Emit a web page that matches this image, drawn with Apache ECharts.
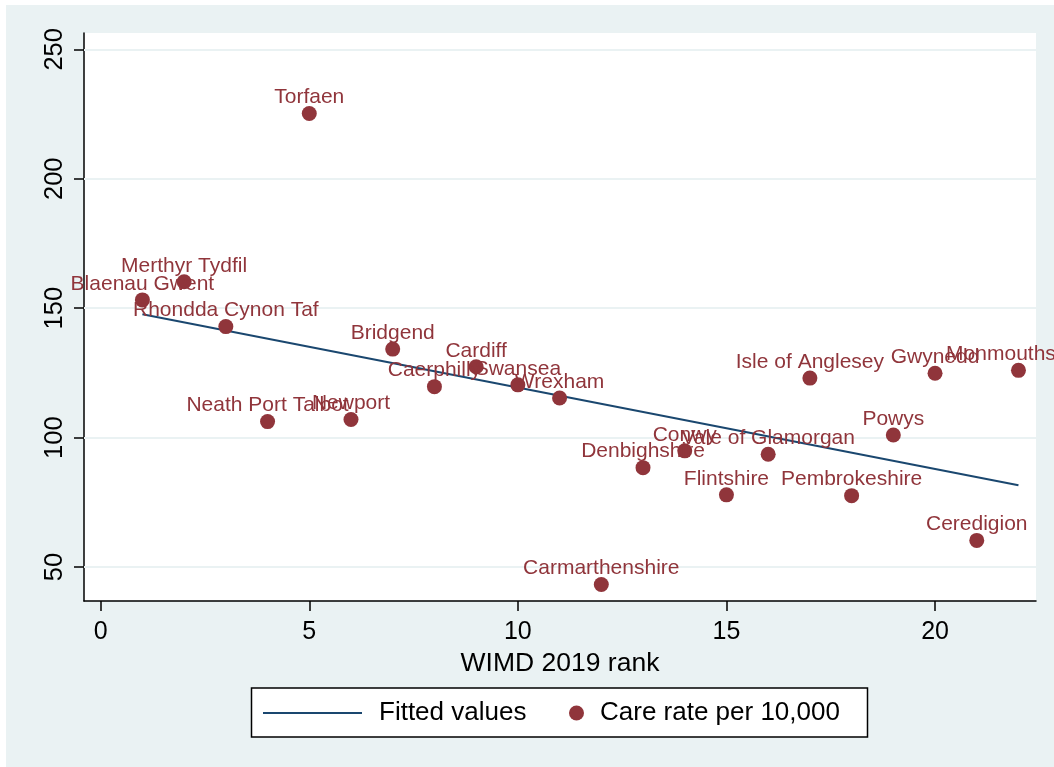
<!DOCTYPE html>
<html>
<head>
<meta charset="utf-8">
<script src="https://cdn.jsdelivr.net/npm/echarts@6/dist/echarts.min.js"></script>
<style>
html,body{margin:0;padding:0;background:#fff;}
#chart{width:1054px;height:767px;}
</style>
</head>
<body>
<div id="chart"></div>
<script>
// Data
var areas = ['Blaenau Gwent','Merthyr Tydfil','Rhondda Cynon Taf','Neath Port Talbot','Torfaen','Newport','Bridgend','Caerphilly','Cardiff','Swansea','Wrexham','Carmarthenshire','Denbighshire','Conwy','Flintshire','Vale of Glamorgan','Isle of Anglesey','Pembrokeshire','Powys','Gwynedd','Ceredigion','Monmouthshire'];
var ranks = [1,2,3,4,5,6,7,8,9,10,11,12,13,14,15,16,17,18,19,20,21,22];
var rates = [153.2,160.2,142.9,106.2,225.2,107.0,134.2,119.7,127.4,120.4,115.3,43.3,88.4,94.9,77.9,93.6,123.0,77.6,101.0,124.9,60.3,126.0];
var fittedX = [1,22];
var fittedY = [147.7,81.6];
var xTicks = [0,5,10,15,20];
var yTicks = [50,100,150,200,250];

var FONT = "'Liberation Sans', Arial, Helvetica, sans-serif";
var MAROON = '#90353B';
var NAVY = '#1A476F';
var BG = '#EAF2F3';

var scatterData = ranks.map(function(r,i){ return {name: areas[i], value:[r, rates[i]]}; });
var fitData = fittedX.map(function(x,i){ return [x, fittedY[i]]; });

var chart = echarts.init(document.getElementById('chart'), null, {renderer:'canvas'});
chart.setOption({
  backgroundColor: BG,
  animation: false,
  textStyle: {fontFamily: FONT},
  graphic: [
    {type:'rect', shape:{x:0,y:0,width:1054,height:5}, style:{fill:'#fff'}, z:0, silent:true},
    {type:'rect', shape:{x:0,y:0,width:6,height:767}, style:{fill:'#fff'}, z:0, silent:true},
    {type:'rect', shape:{x:251.5,y:688,width:616,height:49}, style:{fill:'#fff', stroke:'#000', lineWidth:1.5}, z:1, silent:true}
  ],
  grid: {left:84, right:18, top:33, bottom:166, show:true, backgroundColor:'#fff', borderWidth:0, containLabel:false},
  xAxis: {
    type:'value', min:-0.4, max:22.42,
    name:'WIMD 2019 rank', nameLocation:'middle', nameGap:42,
    nameTextStyle:{fontSize:26.5, color:'#000', fontFamily:FONT},
    axisLine:{show:true, onZero:false, lineStyle:{color:'#000', width:1.5}},
    axisTick:{show:true, length:10, lineStyle:{color:'#000', width:1.5}, customValues:xTicks},
    axisLabel:{fontSize:25, color:'#000', margin:19, fontFamily:FONT, customValues:xTicks},
    splitLine:{show:false}
  },
  yAxis: {
    type:'value', min:36.9, max:256.3,
    axisLine:{show:true, onZero:false, lineStyle:{color:'#000', width:1.5}},
    axisTick:{show:true, length:10, lineStyle:{color:'#000', width:1.5}, customValues:yTicks},
    axisLabel:{fontSize:25.5, color:'#000', margin:16, rotate:90, fontFamily:FONT, customValues:yTicks},
    splitLine:{show:false}
  },
  legend: [
    {data:[{name:'Fitted values', icon:'rect', itemStyle:{color:NAVY}}], left:263, top:700, itemWidth:99, itemHeight:2, padding:0, selectedMode:false, z:5,
     textStyle:{fontSize:26, color:'#000', lineHeight:26, fontFamily:FONT, padding:[0,0,0,12]}},
    {data:['Care rate per 10,000'], left:569, top:700, itemWidth:15, itemHeight:15, icon:'circle', padding:0, selectedMode:false, z:5,
     textStyle:{fontSize:26, color:'#000', lineHeight:26, fontFamily:FONT, padding:[0,0,0,11]}}
  ],
  series: [
    {
      name:'grid', type:'line', data:[], z:1, silent:true,
      markLine:{silent:true, z:1, symbol:['none','none'], label:{show:false},
        lineStyle:{color:BG, width:2, type:'solid'},
        data: yTicks.map(function(v){ return {yAxis:v}; })}
    },
    {
      name:'Fitted values', type:'line', data:fitData, symbol:'none', showSymbol:false, z:3,
      lineStyle:{color:NAVY, width:2}, itemStyle:{color:NAVY}
    },
    {
      name:'Care rate per 10,000', type:'scatter', data:scatterData, symbolSize:15, z:4,
      itemStyle:{color:MAROON, opacity:1},
      label:{show:true, position:'top', distance:-2, formatter:'{b}', fontSize:21, color:MAROON, fontFamily:FONT}
    }
  ]
});
</script>
</body>
</html>
